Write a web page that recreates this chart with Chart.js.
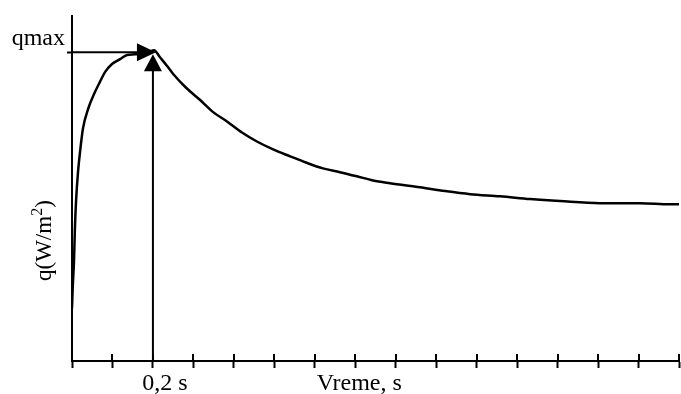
<!DOCTYPE html>
<html>
<head>
<meta charset="utf-8">
<script src="https://cdn.jsdelivr.net/npm/chart.js@4"></script>
<style>
  html, body { margin: 0; padding: 0; background: #fff; }
  #wrap { width: 681px; height: 394px; position: relative; }
</style>
</head>
<body>
<div id="wrap"><canvas id="chart"></canvas></div>
<script>
// time (s) and heat flux (relative units, 0..100)
var timeS = [0, 0.002, 0.005, 0.007, 0.010, 0.015, 0.020, 0.027, 0.040, 0.057, 0.069, 0.082, 0.099, 0.119, 0.136, 0.156, 0.168, 0.188, 0.203,
    0.217, 0.235, 0.250, 0.282, 0.316, 0.348, 0.383, 0.420, 0.457, 0.497, 0.539, 0.578, 0.620, 0.662, 0.704, 0.744, 0.786,
    0.860, 0.922, 0.984, 1.058, 1.132, 1.206, 1.305, 1.404, 1.478, 1.500];
var heatFlux = [15.3, 21.9, 29.1, 37.8, 46.4, 55.0, 60.8, 67.4, 73.2, 78.1, 81.0, 83.9, 86.2, 87.6, 88.8, 89.0, 89.3, 89.6, 90.2,
    88.2, 85.6, 83.3, 79.3, 75.8, 72.3, 69.5, 66.3, 63.7, 61.4, 59.4, 57.6, 55.9, 54.8, 53.6, 52.4, 51.6,
    50.4, 49.3, 48.4, 47.8, 47.0, 46.4, 45.8, 45.8, 45.5, 45.5];

var xTicks = [0, 0.1, 0.2, 0.3, 0.4, 0.5, 0.6, 0.7, 0.8, 0.9, 1.0, 1.1, 1.2, 1.3, 1.4, 1.5];
var tPeak = 0.2;
var qMax = 89.6;
var xTickLabel = '0,2 s';
var yTickLabel = 'qmax';
var xTitle = 'Vreme, s';

var serif = '"Liberation Serif", "Times New Roman", serif';

function arrowHead(ctx, x, y, dx, dy, len, half) {
    // tip at (x,y), pointing in direction (dx,dy)
    var bx = x - dx * len, by = y - dy * len;
    ctx.beginPath();
    ctx.moveTo(x, y);
    ctx.lineTo(bx - dy * half, by + dx * half);
    ctx.lineTo(bx + dy * half, by - dx * half);
    ctx.closePath();
    ctx.fill();
}

var extras = {
    id: 'extras',
    afterDraw: function(chart) {
        var ctx = chart.ctx;
        var xs = chart.scales.x, ys = chart.scales.y;
        var area = chart.chartArea;
        ctx.save();
        ctx.strokeStyle = '#000';
        ctx.fillStyle = '#000';

        // upper half of the x ticks (they cross the axis)
        ctx.lineWidth = 2;
        xs.ticks.forEach(function(t) {
            var px = Math.round(xs.getPixelForValue(t.value));
            ctx.beginPath();
            ctx.moveTo(px, area.bottom - 7);
            ctx.lineTo(px, area.bottom);
            ctx.stroke();
        });

        // arrows to the maximum
        var px = xs.getPixelForValue(tPeak);
        var py = ys.getPixelForValue(qMax);
        ctx.lineWidth = 2;
        ctx.beginPath();
        ctx.moveTo(area.left, py);
        ctx.lineTo(px - 10, py);
        ctx.stroke();
        arrowHead(ctx, px + 3, py, 1, 0, 19, 9);

        ctx.beginPath();
        ctx.moveTo(px, area.bottom);
        ctx.lineTo(px, py + 12);
        ctx.stroke();
        arrowHead(ctx, px, py + 2, 0, -1, 17, 9);

        // x title
        ctx.font = '24px ' + serif;
        ctx.textAlign = 'center';
        ctx.textBaseline = 'alphabetic';
        ctx.fillText(xTitle, xs.getPixelForValue(0.7) + 4, 390);

        // y title with superscript
        ctx.translate(51, 281);
        ctx.rotate(-Math.PI / 2);
        ctx.textAlign = 'left';
        ctx.font = '23px ' + serif;
        var s1 = 'q(W/m';
        ctx.fillText(s1, 0, 0);
        var w = ctx.measureText(s1).width;
        ctx.font = '16px ' + serif;
        ctx.fillText('2', w, -9);
        w += ctx.measureText('2').width;
        ctx.font = '23px ' + serif;
        ctx.fillText(')', w, 0);
        ctx.restore();
    }
};

var config = {
    type: 'line',
    data: {
        labels: timeS,
        datasets: [{
            data: timeS.map(function(t, i) { return { x: t, y: heatFlux[i] }; }),
            borderColor: '#000',
            borderWidth: 2.5,
            pointRadius: 0,
            cubicInterpolationMode: 'monotone',
            fill: false
        }]
    },
    options: {
        responsive: true,
        maintainAspectRatio: false,
        animation: false,
        layout: { padding: { top: 14, right: 2, left: 0, bottom: 0 } },
        plugins: { legend: { display: false }, tooltip: { enabled: false } },
        scales: {
            x: {
                type: 'linear',
                min: 0,
                max: 1.5,
                afterBuildTicks: function(axis) {
                    axis.ticks = xTicks.map(function(v) { return { value: v }; });
                },
                afterFit: function(axis) { axis.height = 33; },
                grid: { drawOnChartArea: false, tickLength: 7, tickWidth: 2, tickColor: '#000' },
                border: { color: '#000', width: 2 },
                ticks: {
                    autoSkip: false,
                    maxRotation: 0,
                    padding: 1,
                    labelOffset: 12,
                    color: '#000',
                    font: { family: serif, size: 24 },
                    callback: function(v) { return Math.abs(v - tPeak) < 1e-9 ? xTickLabel : ''; }
                }
            },
            y: {
                min: 0,
                max: 100,
                afterBuildTicks: function(axis) { axis.ticks = [{ value: qMax }]; },
                afterFit: function(axis) { axis.width = 72; },
                grid: { drawOnChartArea: false, tickLength: 5, tickWidth: 2, tickColor: '#000' },
                border: { color: '#000', width: 2 },
                ticks: {
                    padding: 2,
                    labelOffset: -14,
                    color: '#000',
                    font: { family: serif, size: 24 },
                    callback: function() { return yTickLabel; }
                }
            }
        }
    },
    plugins: [extras]
};

window.onload = function() {
    var ctx = document.getElementById('chart').getContext('2d');
    window.myChart = new Chart(ctx, config);
};
</script>
</body>
</html>
